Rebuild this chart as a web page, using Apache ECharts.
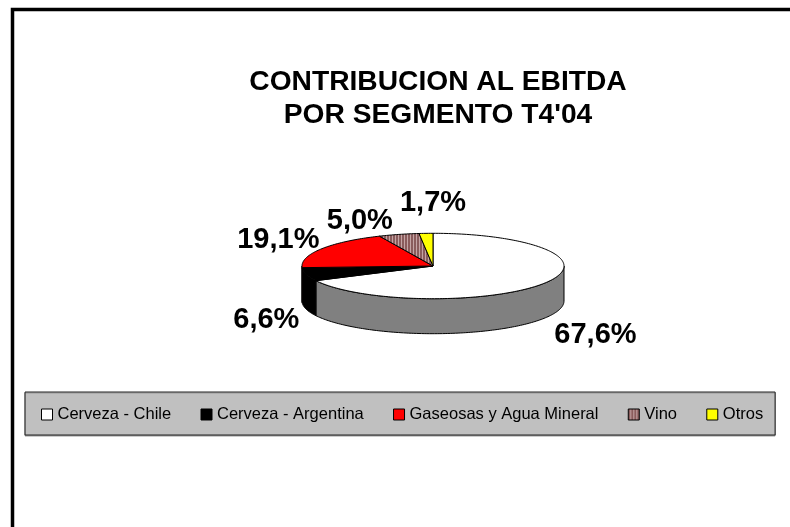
<!DOCTYPE html>
<html>
<head>
<meta charset="utf-8">
<style>html,body{margin:0;padding:0;background:#fff}#c{width:790px;height:527px}</style>
<script src="https://cdn.jsdelivr.net/npm/echarts@6/dist/echarts.min.js"></script>
</head>
<body>
<div id="c"></div>
<script>
const categories = ['Cerveza - Chile', 'Cerveza - Argentina', 'Gaseosas y Agua Mineral', 'Vino', 'Otros'];
const values = [67.6, 6.6, 19.1, 5.0, 1.7];
const valueLabels = ['67,6%', '6,6%', '19,1%', '5,0%', '1,7%'];
const topColors = ['#ffffff', '#000000', '#ff0000', 'PATTERN', '#ffff00'];
const sideColors = ['#808080', '#000000', '#800000', '#664444', '#808000'];
const titleText = "CONTRIBUCION AL EBITDA\nPOR SEGMENTO T4'04";

// Layout of the tilted pie
const cx = 433, cy = 266, rx = 131, ry = 32.7, depth = 35;
// Label nudges from each slice's rim point (style only)
const labelNudge = [[51, 52], [-40, 46], [-43, -9], [-39, -13], [7, -30]];

function stripes() {
  const c = document.createElement('canvas');
  c.width = 3; c.height = 4;
  const g = c.getContext('2d');
  g.fillStyle = '#c4a4a4'; g.fillRect(0, 0, 3, 4);
  g.fillStyle = '#8a5c5c'; g.fillRect(0, 0, 2, 4);
  return c;
}
const pattern = { image: stripes(), repeat: 'repeat' };
const fillOf = i => topColors[i] === 'PATTERN' ? pattern : topColors[i];

const total = values.reduce((a, b) => a + b, 0);
const starts = [];
values.reduce((acc, v, i) => { starts[i] = acc; return acc + v; }, 0);
const toAngle = v => v / total * Math.PI * 2;
const rim = t => [cx + rx * Math.sin(t), cy - ry * Math.cos(t)];

function arcPoints(a, b) {
  const n = Math.max(2, Math.ceil((b - a) / 0.02));
  const pts = [];
  for (let k = 0; k <= n; k++) pts.push(rim(a + (b - a) * k / n));
  return pts;
}

function makeRender(i) {
  return function () {
    const a = toAngle(starts[i]), b = toAngle(starts[i] + values[i]);
    const children = [];
    // front wall: only the part of the slice between 90 and 270 degrees
    const wa = Math.max(a, Math.PI / 2), wb = Math.min(b, Math.PI * 1.5);
    if (wb > wa) {
      const edge = arcPoints(wa, wb);
      const low = edge.map(p => [p[0], p[1] + depth]).reverse();
      children.push({
        type: 'polygon',
        shape: { points: edge.concat(low) },
        style: { fill: sideColors[i], stroke: '#000', lineWidth: 1 }
      });
    }
    // top face
    children.push({
      type: 'polygon',
      shape: { points: [[cx, cy]].concat(arcPoints(a, b)) },
      style: { fill: fillOf(i), stroke: '#000', lineWidth: 1 }
    });
    // label
    const m = rim((a + b) / 2);
    children.push({
      type: 'text',
      z2: 10,
      style: {
        x: m[0] + labelNudge[i][0], y: m[1] + labelNudge[i][1],
        text: valueLabels[i], fill: '#000', align: 'center', verticalAlign: 'middle',
        font: 'bold 29px "Liberation Sans", Arial, sans-serif'
      }
    });
    return { type: 'group', children };
  };
}

const chart = echarts.init(document.getElementById('c'), null, { renderer: 'canvas' });
chart.setOption({
  animation: false,
  backgroundColor: '#ffffff',
  title: {
    text: titleText,
    left: 433, top: 61, textAlign: 'center',
    textStyle: { fontFamily: '"Liberation Sans", Arial, sans-serif', fontWeight: 'bold', fontSize: 28.2, lineHeight: 33, color: '#000' }
  },
  graphic: [{
    type: 'polyline', silent: true,
    shape: { points: [[12.5, 540], [12.5, 9.5], [800, 9.5]] },
    style: { fill: null, stroke: '#000', lineWidth: 3.5 }
  }],
  legend: {
    left: 25, top: 392,
    padding: [14, 12, 12, 16],
    itemGap: 29.3, itemWidth: 11, itemHeight: 11,
    backgroundColor: '#c0c0c0', borderColor: '#222', borderWidth: 1,
    shadowColor: '#999', shadowBlur: 0, shadowOffsetY: 1,
    textStyle: { fontFamily: '"Liberation Sans", Arial, sans-serif', fontSize: 16.5, color: '#000' },
    selectedMode: false,
    data: categories.map((name, i) => ({
      name, icon: 'rect',
      itemStyle: { color: fillOf(i), borderColor: '#000', borderWidth: 1 }
    }))
  },
  xAxis: { show: false }, yAxis: { show: false },
  series: categories.map((name, i) => ({
    type: 'custom', name, coordinateSystem: 'none',
    silent: true, clip: false,
    data: [values[i]],
    itemStyle: { color: topColors[i] === 'PATTERN' ? '#a08080' : topColors[i] },
    renderItem: makeRender(i)
  }))
});
</script>
</body>
</html>
